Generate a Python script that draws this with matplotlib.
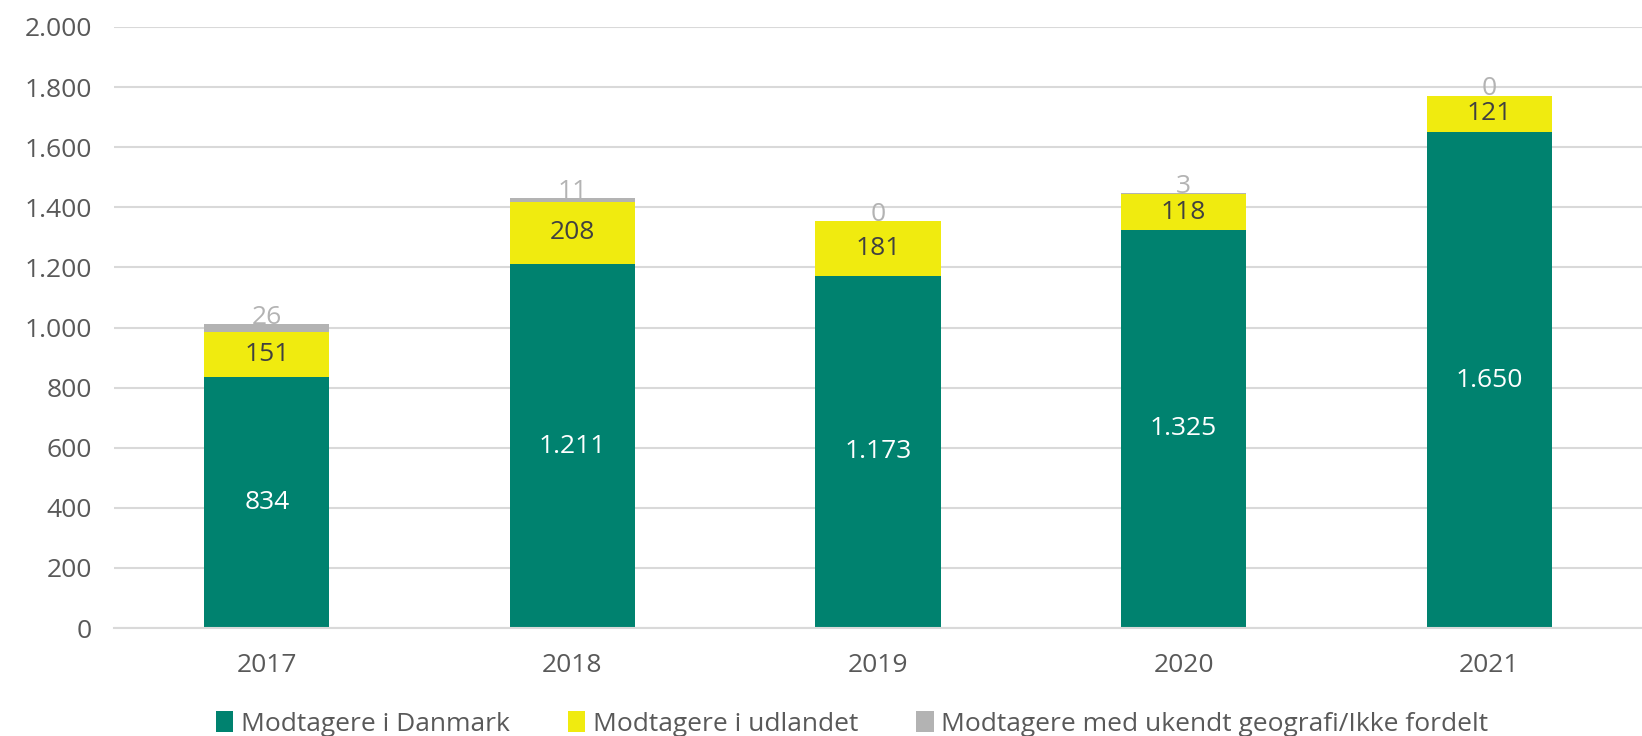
import matplotlib
matplotlib.use("Agg")
import matplotlib.pyplot as plt
from matplotlib.ticker import FuncFormatter
from matplotlib.patches import Patch
import numpy as np

plt.rcParams["font.family"] = ["Open Sans", "DejaVu Sans"]

years = ["2017", "2018", "2019", "2020", "2021"]
danmark = [834, 1211, 1173, 1325, 1650]
udlandet = [151, 208, 181, 118, 121]
ukendt = [26, 11, 0, 3, 0]

series_names = [
    "Modtagere i Danmark",
    "Modtagere i udlandet",
    "Modtagere med ukendt geografi/Ikke fordelt",
]

teal = "#00826F"
yellow = "#F0EB0F"
grey = "#B3B3B3"
text_dark = "#404040"
tick_col = "#595959"


def dk(v):
    return f"{int(v):,}".replace(",", ".")


fig = plt.figure(figsize=(16.42, 7.36), dpi=100)
ax = fig.add_axes([114 / 1642, 1 - 628 / 736, 1528 / 1642, 601 / 736])

x = np.arange(len(years))
w = 0.41
d = np.array(danmark)
u = np.array(udlandet)
k = np.array(ukendt)

ax.bar(x, d, w, color=teal, zorder=2)
ax.bar(x, u, w, bottom=d, color=yellow, zorder=2)
ax.bar(x, k, w, bottom=d + u, color=grey, zorder=2)

fs = 19
for i in range(len(years)):
    ax.text(x[i], d[i] / 2, dk(d[i]), ha="center", va="center",
            color="white", fontsize=fs)
    ax.text(x[i], d[i] + u[i] / 2, dk(u[i]), ha="center", va="center",
            color=text_dark, fontsize=fs)
    top = d[i] + u[i] + k[i]
    ax.annotate(dk(k[i]), (x[i], top), xytext=(0, -4), textcoords="offset points",
                ha="center", va="bottom", color=grey, fontsize=fs)

ax.set_xlim(-0.5, len(years) - 0.5)
ax.set_ylim(0, 2000)
ax.set_yticks(range(0, 2001, 200))
ax.yaxis.set_major_formatter(FuncFormatter(lambda v, p: dk(v)))
ax.set_xticks(x)
ax.set_xticklabels(years)
ax.tick_params(axis="both", length=0, labelsize=fs, colors=tick_col)
ax.tick_params(axis="y", pad=16)
ax.tick_params(axis="x", pad=18)
ax.grid(axis="y", color="#D9D9D9", linewidth=1.5, zorder=0)
for s in ["top", "right", "left"]:
    ax.spines[s].set_visible(False)
ax.spines["bottom"].set_color("#D9D9D9")
ax.spines["bottom"].set_linewidth(1.5)

handles = [Patch(facecolor=c) for c in (teal, yellow, grey)]
fig.legend(handles, series_names, loc="center", bbox_to_anchor=(0.519, 1 - 724 / 736),
           ncol=3, frameon=False, fontsize=fs, handlelength=0.65, handleheight=0.85,
           handletextpad=0.3, columnspacing=2.2, labelcolor=tick_col)

fig.savefig("out.png", dpi=100)
